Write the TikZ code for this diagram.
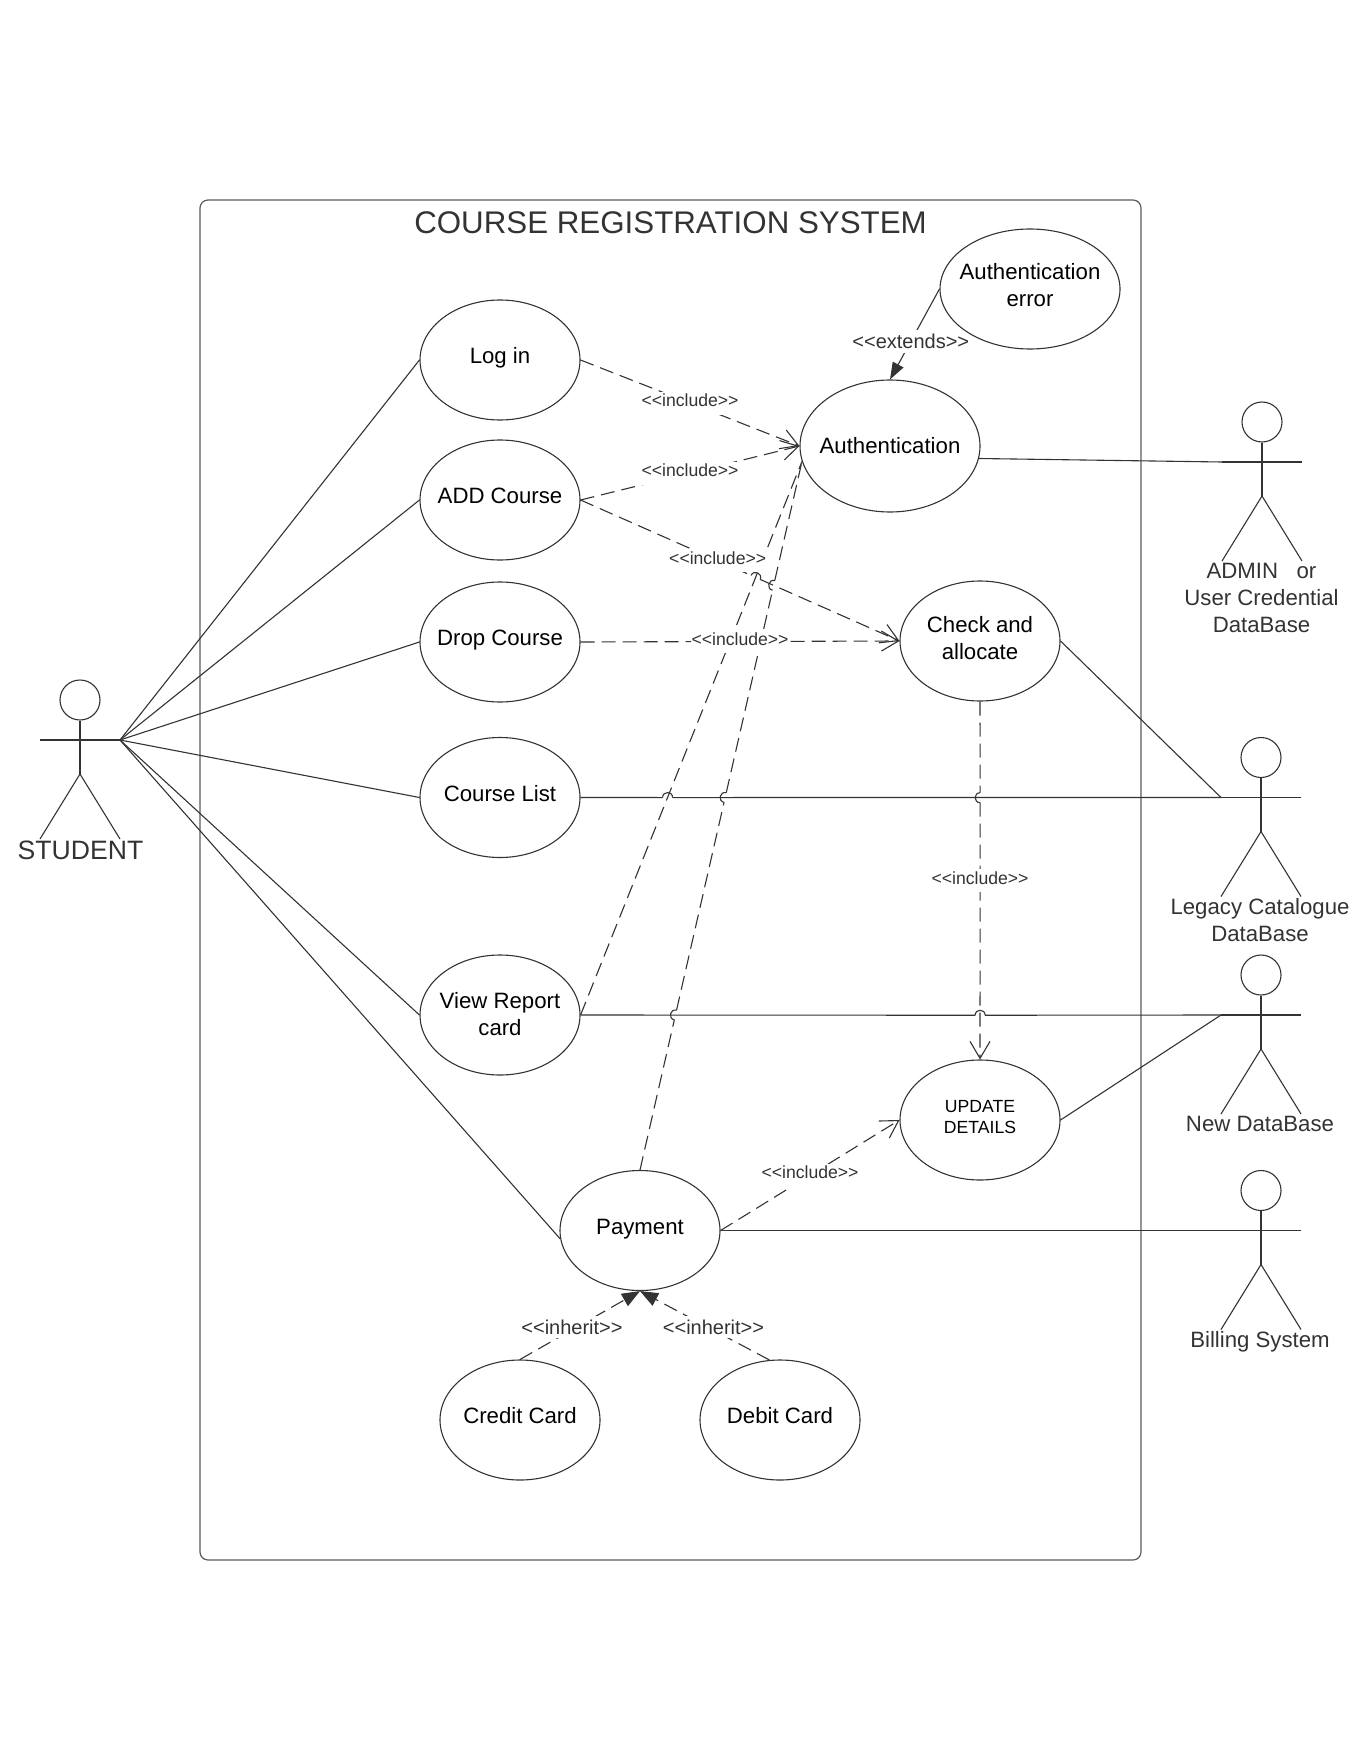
\documentclass[tikz,border=0pt]{standalone}
\usepackage{fontspec}
\setmainfont{Liberation Sans}
\usetikzlibrary{shapes.geometric,arrows.meta,calc}
\definecolor{inkgrey}{HTML}{333333}
\tikzset{
  solidline/.style={draw=inkgrey,line width=1.1pt},
  dashline/.style={solidline,dash pattern=on 14pt off 7pt},
  usecase/.style={ellipse,solidline,inner sep=0pt,minimum width=160pt,minimum height=120pt},
  casetext/.style={inner sep=0pt,font=\fontsize{22.2}{27}\selectfont,text=black,align=center},
  oneline/.style={casetext,text height=16pt,text depth=9pt},
  twolines/.style={casetext,text height=36pt,text depth=0pt},
  actorhead/.style={circle,solidline,inner sep=0pt,minimum size=40pt},
  actorname/.style={font=\fontsize{22.2}{27}\selectfont,text=inkgrey,align=center},
  includetag/.style={fill=white,inner xsep=1pt,inner ysep=2pt,text height=13pt,text depth=6pt,text=inkgrey,font=\fontsize{17.6}{20}\selectfont},
  relationtag/.style={fill=white,inner xsep=1pt,inner ysep=4pt,text=inkgrey,font=\fontsize{20}{24}\selectfont},
  opentip/.style={-{Straight Barb[length=17pt,width=20pt]}},
  filledtip/.style={-{Triangle[length=17pt,width=12pt]}},
  inherittip/.style={-{Triangle[length=18pt,width=14pt]}},
  hopleft/.style={bend left=90,looseness=1.7},
  hopright/.style={bend right=90,looseness=1.7},
}
\newcommand*\drawcase[5][]{%
  \node [usecase,#1] (#2) at (#3) {};
  \node [#4] (#2-text) at (#2) {#5};
}
\newcommand*\drawactor[3]{%
  \node [actorhead] (#1) at (#2,#3) {};
  \coordinate (#1-left) at ($(#1)+(-40,40)$);
  \coordinate (#1-right) at ($(#1)+(40,40)$);
  \coordinate (#1-hip) at ($(#1)+(0,74)$);
  \coordinate (#1-footl) at ($(#1)+(-40,139)$);
  \coordinate (#1-footr) at ($(#1)+(40,139)$);
  \draw [solidline] (#1-left) -- (#1-right);
  \draw [solidline] (#1.south) -- (#1-hip);
  \draw [solidline] (#1-footl) -- (#1-hip) -- (#1-footr);
}
\newcommand*\hopline[5][]{%
  \coordinate (hopstart) at (#3);
  \foreach \cross in {#4} {%
    \draw [#1] (hopstart) -- ($(\cross)!5pt!(hopstart)$);
    \draw [solidline] ($(\cross)!5pt!(hopstart)$) to[#2] ($(\cross)!5pt!(#5)$);
    \coordinate (hopstart) at ($(\cross)!5pt!(#5)$);
  }%
}
\begin{document}
\begin{tikzpicture}[x=1pt,y=-1pt]
\useasboundingbox (0,0) rectangle (1360,1760);

% system box
\node [draw=inkgrey!80,line width=1.2pt,rounded corners=8pt,minimum width=941pt,minimum height=1360pt] (system) at (670.5,880) {};
\node [text=inkgrey,font=\fontsize{31.3}{36}\selectfont] (title) at (670.5,223) {COURSE REGISTRATION SYSTEM};

% use cases
\drawcase{login}{500,360}{oneline}{Log in}
\drawcase{addcourse}{500,500}{oneline}{ADD Course}
\drawcase{dropcourse}{500,642}{oneline}{Drop Course}
\drawcase{courselist}{500,797.5}{oneline}{Course List}
\drawcase{viewreport}{500,1015}{twolines,text height=41pt}{View Report\\card}
\drawcase{payment}{640,1230.5}{oneline}{Payment}
\drawcase{creditcard}{520,1420}{oneline}{Credit Card}
\drawcase{debitcard}{780,1420}{oneline}{Debit Card}
\drawcase[minimum width=180pt,minimum height=132pt]{auth}{890,446}{oneline,text depth=2pt}{Authentication}
\drawcase[minimum width=180pt]{autherror}{1030,289}{twolines}{Authentication\\error}
\drawcase{checkalloc}{980,641}{twolines}{Check and\\allocate}
\drawcase{update}{980,1120}{twolines,font=\fontsize{17.6}{21}\selectfont,text height=26pt,text depth=0pt}{UPDATE\\DETAILS}

% actors
\drawactor{student}{80}{700}
\drawactor{admin}{1262}{422}
\drawactor{legacy}{1261}{757.5}
\drawactor{newdb}{1261}{975}
\drawactor{billing}{1261}{1190.5}
\node [actorname,font=\fontsize{26.6}{30}\selectfont] (studentname) at (80.5,850) {STUDENT};
\node [actorname] (adminname) at (1261.5,598) {ADMIN\ \ \ or\\User Credential\\DataBase};
\node [actorname] (legacyname) at (1260,920) {Legacy Catalogue\\DataBase};
\node [actorname] (newdbname) at (1260,1124) {New DataBase};
\node [actorname] (billingname) at (1260,1342) {Billing System};

% line crossings
\coordinate (crossa) at (intersection of courselist.east--legacy-left and viewreport.east--auth.190);
\coordinate (crossb) at (intersection of payment.north--auth.190 and viewreport.east--newdb-left);
\coordinate (crossc) at (intersection of payment.north--auth.190 and courselist.east--legacy-left);
\coordinate (crossd) at (intersection of payment.north--auth.190 and addcourse.east--checkalloc.west);
\coordinate (crosse) at (intersection of viewreport.east--auth.190 and addcourse.east--checkalloc.west);
\coordinate (crossf) at (intersection of checkalloc.south--update.north and courselist.east--legacy-left);
\coordinate (crossg) at (intersection of checkalloc.south--update.north and viewreport.east--newdb-left);

% student links
\foreach \case in {login.west,addcourse.west,dropcourse.west,courselist.west,viewreport.west,payment.186} {
  \draw [solidline] (student-right) -- (\case);
}

% actor links
\draw [solidline] (auth.-8) -- (admin-left);
\draw [solidline] (checkalloc.east) -- (legacy-left);
\hopline[solidline]{hopleft}{courselist.east}{crossa}{legacy-left}
\draw [solidline] (hopstart) -- (legacy-left);
\hopline[solidline]{hopleft}{viewreport.east}{crossg}{newdb-left}
\draw [solidline] (hopstart) -- (newdb-left);
\draw [solidline] (update.east) -- (newdb-left);
\draw [solidline] (payment.east) -- (billing-left);

% include links
\draw [dashline,opentip] (login.east) -- (auth.west);
\draw [dashline,opentip] (addcourse.east) -- (auth.west);
\hopline[dashline]{hopleft}{addcourse.east}{crosse}{checkalloc.west}
\draw [dashline,opentip] (hopstart) -- (checkalloc.west);
\draw [dashline,opentip] (dropcourse.east) -- (checkalloc.west);
\draw [dashline] (viewreport.east) -- (auth.190);
\hopline[dashline]{hopleft}{payment.north}{crossb,crossc,crossd}{auth.190}
\draw [dashline] (hopstart) -- (auth.190);
\hopline[dashline]{hopright}{checkalloc.south}{crossf}{update.north}
\draw [dashline,opentip] (hopstart) -- (update.north);
\draw [dashline,opentip] (payment.east) -- (update.west);

% extends and inherit
\draw [solidline,filledtip] (autherror.west) -- (auth.north);
\draw [dashline,inherittip] (creditcard.north) -- (payment.south);
\draw [dashline,inherittip] (debitcard.100) -- (payment.south);

% tags
\foreach \from/\to/\where in {login.east/auth.west/.5, addcourse.east/auth.west/.5, addcourse.east/checkalloc.west/.43, dropcourse.east/checkalloc.west/.5, checkalloc.south/update.north/.5, payment.east/update.west/.5} {
  \node [includetag] (includetag) at ($(\from)!\where!(\to)$) {<{}<include>{}>};
}
\node [relationtag,inner xsep=-14pt] (extendstag) at ($(autherror.west)!.58!(auth.north)$) {<{}<extends>{}>};
\node [relationtag] (inherittaga) at (572,1327) {<{}<inherit>{}>};
\node [relationtag] (inherittagb) at (713.5,1327) {<{}<inherit>{}>};

\end{tikzpicture}
\end{document}
